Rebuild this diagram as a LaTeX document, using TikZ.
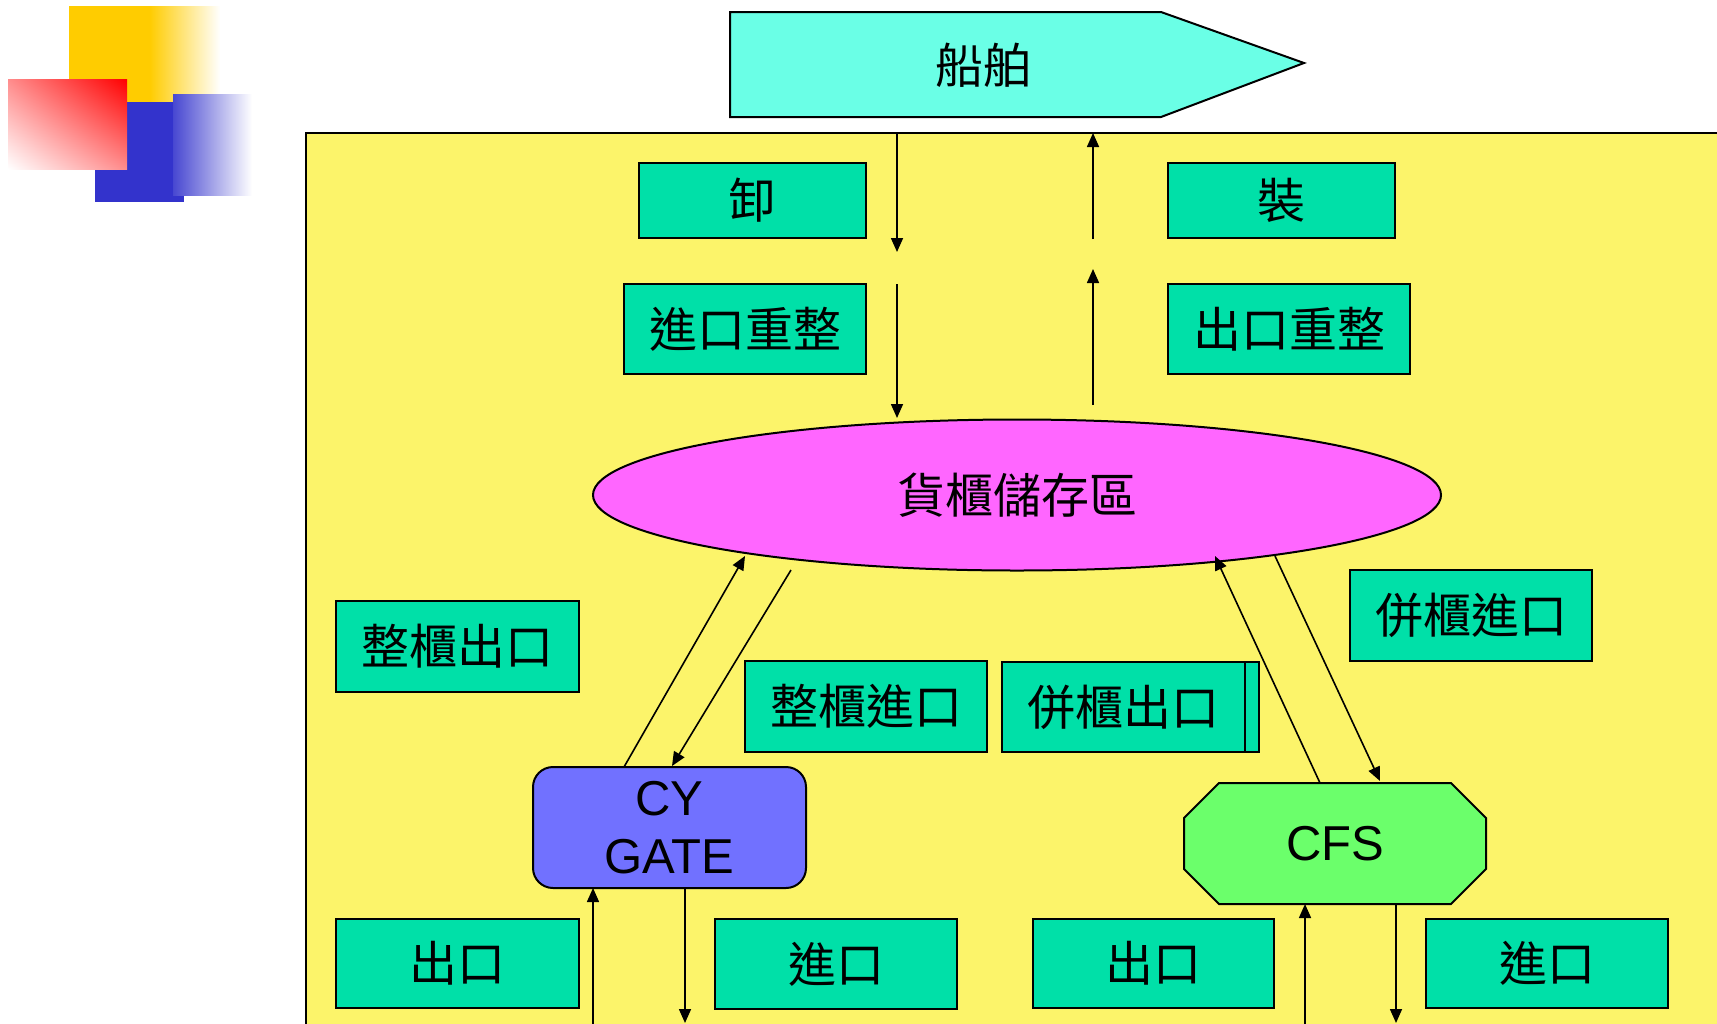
\documentclass[tikz,border=0pt]{standalone}
\usepackage{fontspec}
\setmainfont{Liberation Sans}
\newfontfamily\cjk{Noto Sans CJK TC}
\usetikzlibrary{arrows.meta,shapes.geometric,shadings}
\definecolor{bgyellow}{HTML}{FCF46A}
\definecolor{shipc}{HTML}{6AFFE6}
\definecolor{boxg}{HTML}{00E0A8}
\definecolor{ellc}{HTML}{FF66FF}
\definecolor{cyc}{HTML}{7171FF}
\definecolor{cfsc}{HTML}{6BFF6B}
\definecolor{decoy}{HTML}{FFCC00}
\definecolor{decob}{HTML}{3333CC}
\tikzset{
  gbox/.style={draw=black, line width=1pt, fill=boxg, inner sep=0pt, font=\cjk\fontsize{24}{28}\selectfont},
  flow/.style={line width=0.8pt, -{Triangle[width=6pt,length=7pt]}},
  lbl/.style={inner sep=0pt, font=\cjk\fontsize{24}{28}\selectfont},
}
\begin{document}
\begin{tikzpicture}[x=0.5pt,y=-0.5pt]
\useasboundingbox (0,0) rectangle (1717,1023);
\clip (0,0) rectangle (1717,1023);
\fill[white] (0,0) rectangle (1717,1023);
% decoration
\fill[decoy] (69,6) rectangle (150,102);
\shade[left color=decoy, right color=white] (149.5,6) rectangle (220,102);
\fill[decob] (95,102) rectangle (184,202);
\shade[left color=decob!90!white, right color=white] (173,94) rectangle (252,195);
\shade[upper left=red!45!white, upper right=red, lower left=white, lower right=red!45!white] (8,79) rectangle (127,169);
% yard
\draw[line width=1.2pt, fill=bgyellow] (306,133) rectangle (1730,1040);
% ship
\draw[line width=1pt, fill=shipc] (730,12) -- (1161,12) -- (1304,63) -- (1161,117) -- (730,117) -- cycle;
\node[lbl] (ship) at (983,65) {船舶};
% boxes
\node[gbox, minimum width=113.5pt, minimum height=37.5pt] (xie) at (752.5,200.5) {卸};
\node[gbox, minimum width=113.5pt, minimum height=37.5pt] (zhuang) at (1281.5,200.5) {裝};
\node[gbox, minimum width=121pt, minimum height=45pt] (jkcz) at (745,329) {進口重整};
\node[gbox, minimum width=121pt, minimum height=45pt] (ckcz) at (1289,329) {出口重整};
\node[draw=black, line width=1pt, fill=ellc, ellipse, inner sep=0pt, minimum width=424pt, minimum height=75.5pt, font=\cjk\fontsize{24}{28}\selectfont] (store) at (1017,495) {貨櫃儲存區};
\node[gbox, minimum width=121.5pt, minimum height=45.5pt] (zgck) at (457.5,646.5) {整櫃出口};
\node[gbox, minimum width=121pt, minimum height=45.5pt] (zgjk) at (866,706.5) {整櫃進口};
\node[gbox, minimum width=128.5pt, minimum height=45pt] (bgckbox) at (1130.5,707) {};
\draw[line width=1pt] (1245,662) -- (1245,752);
\node[lbl] (bgck) at (1123.5,707) {併櫃出口};
\node[gbox, minimum width=121pt, minimum height=45.5pt] (bgjk) at (1471,615.5) {併櫃進口};
\node[draw=black, line width=1pt, fill=cyc, rounded corners=10pt, inner sep=0pt, minimum width=136.5pt, minimum height=60.5pt, align=center, font=\fontsize{24.5}{29}\selectfont] (cy) at (669.5,827.5) {CY\\GATE};
\draw[line width=1pt, fill=cfsc] (1219,783) -- (1451,783) -- (1486,818) -- (1486,869) -- (1451,904) -- (1219,904) -- (1184,869) -- (1184,818) -- cycle;
\node[inner sep=0pt, font=\fontsize{24.5}{29}\selectfont] (cfs) at (1335,843.5) {CFS};
\node[gbox, minimum width=121.5pt, minimum height=44.5pt] (ck1) at (457.5,963.5) {出口};
\node[gbox, minimum width=121pt, minimum height=45pt] (jk1) at (836,964) {進口};
\node[gbox, minimum width=120.5pt, minimum height=44.5pt] (ck2) at (1153.5,963.5) {出口};
\node[gbox, minimum width=121pt, minimum height=44.5pt] (jk2) at (1547,963.5) {進口};
% connector end points
\coordinate (a1s) at (897,133); \coordinate (a1e) at (897,252);
\coordinate (a2s) at (897,284); \coordinate (a2e) at (897,418);
\coordinate (a3s) at (1093,239); \coordinate (a3e) at (1093,133);
\coordinate (a4s) at (1093,405); \coordinate (a4e) at (1093,269);
\coordinate (a5s) at (624,767); \coordinate (a5e) at (745,556);
\coordinate (a6s) at (791,570); \coordinate (a6e) at (672,766);
\coordinate (a7s) at (1320,783); \coordinate (a7e) at (1215,556);
\coordinate (a8s) at (1275,556); \coordinate (a8e) at (1380,781);
\coordinate (a9s) at (593,1040); \coordinate (a9e) at (593,888);
\coordinate (a10s) at (685,888); \coordinate (a10e) at (685,1023);
\coordinate (a11s) at (1305,1040); \coordinate (a11e) at (1305,904);
\coordinate (a12s) at (1396,904); \coordinate (a12e) at (1396,1023);
\foreach \i in {1,...,12} { \draw[flow] (a\i s) -- (a\i e); }
\end{tikzpicture}
\end{document}
